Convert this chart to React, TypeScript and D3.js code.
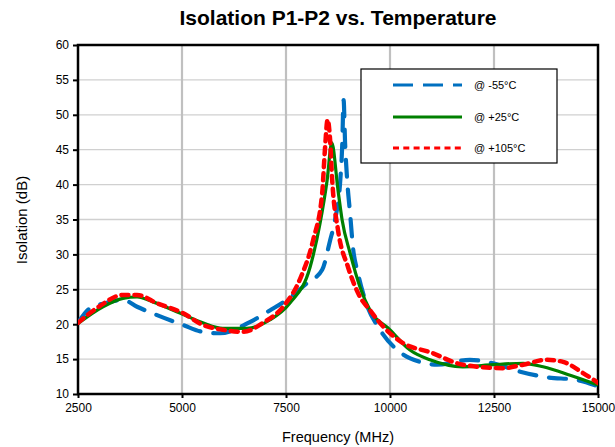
import React, { useEffect, useRef } from "react";
import * as d3 from "d3";

const freqM55 = [2500, 2790, 3150, 3580, 3920, 4400, 5020, 5500, 5910, 6630, 7120, 7520, 8010, 8370, 8560, 8680, 8800, 8850, 8885, 8920, 8970, 9040, 9110, 9230, 9400, 9760, 10240, 10720, 11130, 11920, 12480, 13130, 13770, 14500, 15000];
const valM55 = [20.2, 22.3, 23.0, 23.5, 22.5, 21.3, 19.9, 18.9, 18.7, 20.3, 22.0, 23.5, 25.9, 27.8, 32.0, 35.0, 40.2, 45.4, 52.1, 46.0, 40.7, 35.9, 31.0, 27.3, 23.5, 19.2, 16.0, 14.6, 14.2, 14.9, 14.4, 13.2, 12.4, 12.0, 11.1];

const freqP25 = [2500, 3100, 3580, 3920, 4300, 4950, 5500, 5980, 6560, 7110, 7590, 8080, 8320, 8490, 8600, 8750, 8850, 9040, 9280, 9520, 10000, 10480, 10960, 11750, 12480, 13200, 13680, 14330, 15000];
const valP25 = [20.1, 22.5, 23.7, 23.9, 23.2, 21.6, 20.2, 19.4, 19.4, 20.6, 23.0, 28.2, 34.5, 40.7, 46.0, 39.2, 34.9, 30.2, 25.3, 22.0, 19.2, 16.3, 14.9, 13.9, 14.2, 14.4, 13.9, 12.7, 11.3];

const freqP105 = [2500, 3000, 3580, 3920, 4400, 5020, 5500, 5980, 6470, 6950, 7430, 7840, 8150, 8370, 8440, 8500, 8560, 8610, 8750, 8990, 9280, 9520, 9700, 10310, 10960, 11750, 12720, 13200, 13770, 14160, 14640, 15000];
const valP105 = [20.2, 22.5, 24.2, 24.2, 23.0, 21.6, 19.9, 19.2, 18.9, 20.2, 22.5, 26.5, 32.0, 38.8, 45.4, 49.3, 46.4, 40.7, 33.5, 28.2, 23.9, 22.0, 20.6, 17.3, 16.0, 14.2, 13.7, 14.2, 14.9, 14.6, 13.0, 11.6];

const xTicks = [2500, 5000, 7500, 10000, 12500, 15000];
const yTicks = [10, 15, 20, 25, 30, 35, 40, 45, 50, 55, 60];

const seriesNames = ["@ -55°C", "@ +25°C", "@ +105°C"];

const W = 615, H = 447;
const M = { left: 78, right: 17, top: 45, bottom: 53 };

export default function App() {
  const ref = useRef<SVGSVGElement>(null);
  useEffect(() => {
    const svg = d3.select(ref.current);
    svg.selectAll("*").remove();
    const x = d3.scaleLinear().domain([2500, 15000]).range([M.left, W - M.right]);
    const y = d3.scaleLinear().domain([10, 60]).range([H - M.bottom, M.top]);
    const font = "Arial, 'Liberation Sans', sans-serif";

    svg.append("rect").attr("width", W).attr("height", H).attr("fill", "#fff");

    // grid
    const g = svg.append("g");
    g.selectAll(".hg").data(yTicks.slice(1, -1)).enter().append("line")
      .attr("x1", x(2500)).attr("x2", x(15000))
      .attr("y1", d => y(d)).attr("y2", d => y(d))
      .attr("stroke", "#d0d0d0").attr("stroke-width", 1.3);
    g.selectAll(".vg").data(xTicks.slice(1, -1)).enter().append("line")
      .attr("y1", y(10)).attr("y2", y(60))
      .attr("x1", d => x(d)).attr("x2", d => x(d))
      .attr("stroke", "#c0c0c0").attr("stroke-width", 2.2);

    // axes via d3
    const xAxis = svg.append("g").attr("transform", `translate(0,${y(10)})`)
      .call(d3.axisBottom(x).tickValues(xTicks).tickSize(4).tickPadding(5).tickFormat(d3.format("d")));
    const yAxis = svg.append("g").attr("transform", `translate(${x(2500)},0)`)
      .call(d3.axisLeft(y).tickValues(yTicks).tickSize(5).tickPadding(4).tickFormat(d3.format("d")));
    [xAxis, yAxis].forEach(a => {
      a.select(".domain").remove();
      a.selectAll("line").attr("stroke", "#000").attr("stroke-width", 2);
      a.selectAll("text").attr("font-family", font).attr("font-size", 12).attr("fill", "#000");
    });

    // plot border
    svg.append("rect")
      .attr("x", x(2500)).attr("y", y(60))
      .attr("width", x(15000) - x(2500)).attr("height", y(10) - y(60))
      .attr("fill", "none").attr("stroke", "#000").attr("stroke-width", 2.5);

    svg.append("clipPath").attr("id", "pc").append("rect")
      .attr("x", x(2500)).attr("y", y(60))
      .attr("width", x(15000) - x(2500)).attr("height", y(10) - y(60));

    const series = [
      { f: freqM55, v: valM55, color: "#0070C0", width: 4.2, dash: "17,13", cap: "round" },
      { f: freqP25, v: valP25, color: "#008000", width: 3.2, dash: null, cap: "butt" },
      { f: freqP105, v: valP105, color: "#FF0000", width: 4.5, dash: "7,6", cap: "round" },
    ];
    const line = d3.line<[number, number]>().x(d => x(d[0])).y(d => y(d[1])).curve(d3.curveMonotoneX);
    const lg = svg.append("g").attr("clip-path", "url(#pc)");
    series.forEach(s => {
      const pts = s.f.map((f, i) => [f, s.v[i]] as [number, number]);
      const p = lg.append("path").attr("d", line(pts)).attr("fill", "none")
        .attr("stroke", s.color).attr("stroke-width", s.width)
        .attr("stroke-linecap", s.cap).attr("stroke-linejoin", "round");
      if (s.dash) p.attr("stroke-dasharray", s.dash);
    });

    // legend
    const leg = svg.append("g");
    leg.append("rect").attr("x", 361).attr("y", 69).attr("width", 196).attr("height", 94)
      .attr("fill", "#fff").attr("stroke", "#000").attr("stroke-width", 1.2);
    const ly = [85, 117, 148];
    const legDash = ["20,10", null, "6,4.3"];
    series.forEach((s, i) => {
      const l = leg.append("line").attr("x1", 393).attr("x2", 462).attr("y1", ly[i]).attr("y2", ly[i])
        .attr("stroke", s.color).attr("stroke-width", 3);
      if (legDash[i]) l.attr("stroke-dasharray", legDash[i]!);
      leg.append("text").attr("x", 474).attr("y", ly[i] + 4).text(seriesNames[i])
        .attr("font-family", font).attr("font-size", 11).attr("fill", "#000");
    });

    // titles
    svg.append("text").attr("x", 338).attr("y", 25).attr("text-anchor", "middle")
      .attr("font-family", font).attr("font-size", 21).attr("font-weight", "bold").text("Isolation P1-P2 vs. Temperature");
    svg.append("text").attr("x", 338).attr("y", 442).attr("text-anchor", "middle")
      .attr("font-family", font).attr("font-size", 14.5).text("Frequency (MHz)");
    svg.append("text").attr("transform", `translate(27,220) rotate(-90)`).attr("text-anchor", "middle")
      .attr("font-family", font).attr("font-size", 15).text("Isolation (dB)");
  }, []);
  return (
    <svg ref={ref} width={W} height={H} style={{ position: "absolute", left: 0, top: 0, display: "block" }} />
  );
}
